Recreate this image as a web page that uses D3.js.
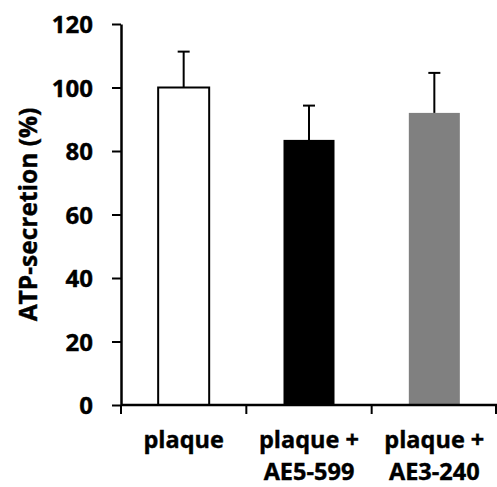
<!DOCTYPE html>
<html><head><meta charset="utf-8">
<script src="https://cdn.jsdelivr.net/npm/d3@7"></script>
<style>body{margin:0;background:#fff}</style>
</head><body>
<svg id="c" width="497" height="487"></svg>
<script>
const categories = [["plaque"], ["plaque +", "AE5-599"], ["plaque +", "AE3-240"]];
const catKeys = ["plaque", "plaque + AE5-599", "plaque + AE3-240"];
const values = [100, 83.5, 92];
const errors = [11.3, 10.8, 12.6];
const fills = ["#ffffff", "#000000", "#808080"];
const yTicks = [0, 20, 40, 60, 80, 100, 120];
const yLabel = "ATP-secretion (%)";

const svg = d3.select("#c");
const font = "'Open Sans', sans-serif";
const x0 = 121, x1 = 497, y0 = 405, y1 = 24;
const y = d3.scaleLinear().domain([0, 120]).range([y0, y1]);
const x = d3.scaleBand().domain(catKeys).range([x0, x1]).paddingInner(0.593).paddingOuter(0.2965);

function boldText(sel, size) {
  sel.attr("font-family", font).attr("font-weight", "bold").attr("font-size", size)
    .attr("fill", "#000").attr("stroke", "#000").attr("stroke-width", 0.4);
}

// bars
svg.selectAll("rect.bar").data(values).join("rect")
  .attr("x", (d, i) => x(catKeys[i]))
  .attr("y", d => y(d))
  .attr("width", x.bandwidth())
  .attr("height", d => y(0) - y(d))
  .attr("fill", (d, i) => fills[i])
  .attr("stroke", (d, i) => i === 0 ? "#000" : "none")
  .attr("stroke-width", 2);

// error bars
const eb = svg.append("g").attr("stroke", "#000").attr("stroke-width", 2);
values.forEach((v, i) => {
  const cx = x(catKeys[i]) + x.bandwidth() / 2;
  eb.append("line").attr("x1", cx).attr("x2", cx).attr("y1", y(v)).attr("y2", y(v + errors[i]));
  eb.append("line").attr("x1", cx - 6).attr("x2", cx + 6).attr("y1", y(v + errors[i])).attr("y2", y(v + errors[i]));
});

// y axis
const ya = svg.append("g").attr("transform", `translate(${x0},0)`)
  .call(d3.axisLeft(y).tickValues(yTicks).tickSize(9).tickPadding(19).tickSizeOuter(0));
ya.select(".domain").attr("stroke-width", 2.5);
ya.selectAll(".tick line").attr("stroke-width", 2);
ya.selectAll(".tick text").call(boldText, 24).attr("dy", "0.36em");

// x axis line and boundary ticks
const bounds = [0, 1, 2, 3].map(i => x0 + i * x.step());
svg.append("line").attr("x1", x0).attr("x2", x1).attr("y1", y0).attr("y2", y0)
  .attr("stroke", "#000").attr("stroke-width", 2.5);
svg.selectAll("line.xt").data(bounds).join("line")
  .attr("x1", d => Math.min(d, x1 - 1)).attr("x2", d => Math.min(d, x1 - 1))
  .attr("y1", y0).attr("y2", y0 + 9)
  .attr("stroke", "#000").attr("stroke-width", 2);

// x labels
categories.forEach((lines, i) => {
  const cx = x(catKeys[i]) + x.bandwidth() / 2;
  lines.forEach((t, j) => {
    svg.append("text").attr("x", cx).attr("y", 448 + j * 32)
      .attr("text-anchor", "middle").call(boldText, 23.5).text(t);
  });
});

// y label
svg.append("text").attr("transform", `translate(37,${(y0 + y1) / 2}) rotate(-90)`)
  .attr("text-anchor", "middle").call(boldText, 24.5).text(yLabel);
</script>
</body></html>
